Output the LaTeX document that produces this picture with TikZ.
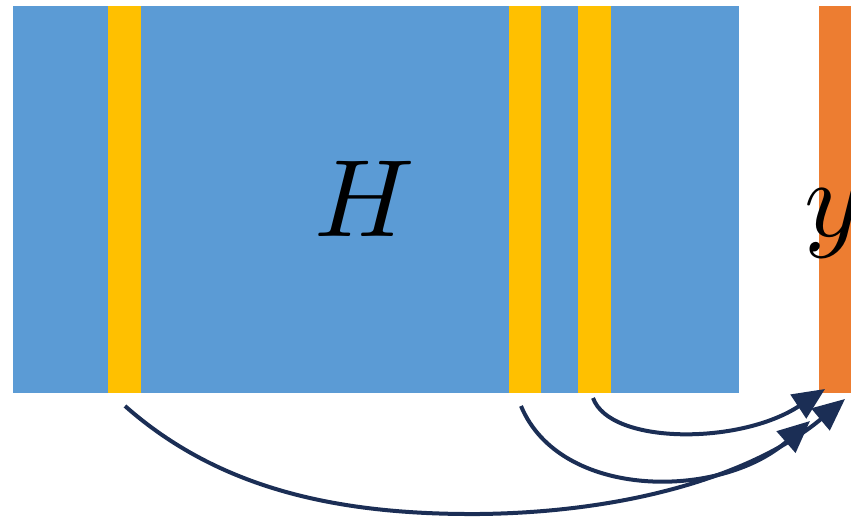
\documentclass[tikz,border=0pt]{standalone}
\usepackage{graphicx}
\usepackage{tikz}
\usetikzlibrary{arrows.meta, positioning, calc}
\definecolor{hblue}{HTML}{5B9BD5}
\definecolor{hyellow}{HTML}{FFC000}
\definecolor{horange}{HTML}{ED7D31}
\definecolor{hnavy}{HTML}{1B2E55}
\newcommand{\bigsym}[1]{\scalebox{5.5}{$#1$}}

\begin{document}
\begin{tikzpicture}[x=0.5pt,y=-0.5pt]
\tikzset{
  bar/.style={rectangle,inner sep=0pt,outer sep=0pt,minimum height=193.5pt},
  col/.style={bar,fill=hyellow,minimum width=16.5pt},
  lbl/.style={anchor=base,inner sep=0pt},
  ar/.style={-{Triangle[length=16pt,width=14pt]},line width=2pt,draw=hnavy}
}
\useasboundingbox (0,0) rectangle (851,517);
\node[bar,fill=hblue,minimum width=363pt] (H) at (376,199.5) {};
\node[col] (c1) at (124,199.5) {};
\node[col,minimum width=16pt] (c2) at (525,199.5) {};
\node[col] (c3) at (594,199.5) {};
\node[bar,fill=horange,minimum width=18pt,anchor=west] (y) at (819,199.5) {};
\node[lbl] (hl) at (365,237) {\bigsym{H}};
\node[lbl] (yl) at (833,237) {\bigsym{y}};
% arrow ends below y
\coordinate (e1) at (845,399);
\coordinate (e2) at (810,421);
\coordinate (e3) at (825,389);
\draw[ar] ($(c1.south)+(1,13)$) .. controls (220,490) and (340,515) .. (480,514)
  .. controls (640,512) and (760,470) .. (e1);
\draw[ar] ($(c2.south)+(-4,13)$) .. controls (560,500) and (720,500) .. (e2);
\draw[ar] ($(c3.south)+(-1,5)$) .. controls (610,445) and (740,445) .. (e3);
\end{tikzpicture}
\end{document}
